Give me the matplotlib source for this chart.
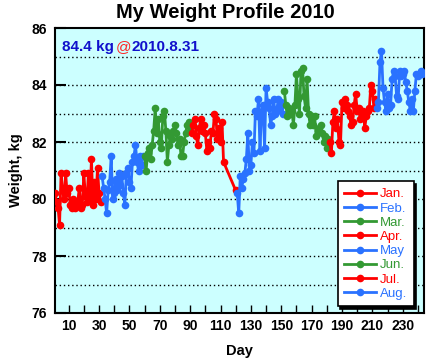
import numpy as np
import matplotlib
matplotlib.use("Agg")
import matplotlib.pyplot as plt

plt.rcParams['font.family'] = ['Liberation Sans', 'DejaVu Sans']

nan = float('nan')

month_names = ['Jan.', 'Feb.', 'Mar.', 'Apr.', 'May', 'Jun.', 'Jul.', 'Aug.']
month_start_day = [1, 32, 60, 91, 121, 152, 182, 213]

jan = [80.2, 79.9, 79.7, 79.1, 80.9, 80.3, 80.0, 80.9, 80.2, 80.4, 79.8, 79.7, 80.0, 79.7, 79.8,
       79.9, 80.4, 79.7, 79.8, 80.9, 80.1, 79.9, 80.9, 80.0, 81.4, 79.8, 80.6, 80.0, 81.1, 80.2, 79.9]
feb = [80.8, 80.4, 80.0, 79.5, 80.3, 80.6, 81.5, 80.0, 80.2, 80.7, 80.3, 80.9, 80.5, 80.8, 80.2,
       79.8, 80.9, 81.1, 80.6, 80.4, 81.3, 81.5, 81.9, 81.3, 81.0, 81.5, 81.2, 81.5]
mar = [81.5, 81.0, 81.6, 81.8, 81.4, 81.9, 82.4, 83.2, 82.3, 82.8, 82.0, 81.8, 82.9, 83.1, 82.4,
       81.3, 81.9, 82.2, 82.1, 82.4, 82.6, 82.3, 81.9, 82.1, 81.5, 81.5, 82.0, 82.3, 82.6, 82.7, 82.4]
apr = [82.3, 82.6, 82.8, 82.2, 81.9, 82.5, 82.8, 82.4, 82.6, 82.3, 81.7, 82.0, 81.8, 82.4, 82.3,
       83.0, 82.8, 82.1, 82.5, 82.0, 82.7, 81.3, nan, nan, nan, nan, nan, nan, nan, 80.3]
may = [80.2, 79.5, 80.8, 80.4, 80.7, 80.9, 81.4, 82.3, 81.0, 81.2, 82.0, 81.6, 83.1, 82.9, 83.5,
       81.7, 83.1, 83.3, 81.8, 83.9, 83.4, 83.2, 82.6, 82.9, 83.5, 83.0, 83.1, 83.5, 83.2, 83.4, 83.0]
jun = [83.8, 83.3, 82.9, 83.2, 83.0, 83.1, 82.6, 83.3, 84.4, 83.5, 83.0, 84.5, 84.6, 83.6, 83.2,
       84.2, 83.0, 82.6, 82.9, 82.6, 82.9, 82.2, 82.4, 82.5, 82.6, 82.3, 82.0, 82.2, 81.8, 82.1]
jul = [82.0, 81.6, 82.7, 83.1, 82.5, 82.8, 82.0, 81.9, 83.4, 83.2, 83.5, 83.3, 83.1, 82.9, 82.6,
       82.7, 83.3, 83.7, 83.1, 83.2, 82.8, 83.0, 83.1, 82.5, 82.9, 83.1, 83.2, 84.0, 83.8, 83.2, 83.5]
aug = [83.2, 83.4, 84.8, 85.2, 83.9, 83.4, 83.1, 83.7, 83.2, 83.3, 84.2, 84.5, 84.3, 83.6, 83.5,
       84.5, 84.3, 84.4, 84.5, 84.1, 83.8, 83.4, 83.1, 83.5, 83.1, 83.8, 84.4, 84.3, 84.4, 84.5, 84.4]

months = [jan, feb, mar, apr, may, jun, jul, aug]
colors = ['#ff0000', '#2a72ff', '#339933', '#ff0000', '#2a72ff', '#339933', '#ff0000', '#2a72ff']

x_ticks = list(range(10, 241, 10))
x_labels = [str(t) if (t - 10) % 20 == 0 else '' for t in x_ticks]
y_ticks = [76, 78, 80, 82, 84, 86]

fig = plt.figure(figsize=(4.29, 3.62), dpi=100)
ax = fig.add_axes([55 / 429, 1 - 313 / 362, (424 - 55) / 429, (313 - 28) / 362])
ax.set_facecolor('#ccffff')

for lvl in range(77, 86):
    ax.axhline(lvl, color='black', linestyle=(0, (1, 2)), linewidth=1.0, zorder=1)

for name, start, vals, c in zip(month_names, month_start_day, months, colors):
    v = np.array(vals, dtype=float)
    d = np.arange(start, start + len(v))
    m = ~np.isnan(v)
    ax.plot(d[m], v[m], color=c, linewidth=2, marker='o', markersize=5.5,
            markeredgewidth=0, label=name, zorder=3)

ax.set_xlim(1, 244)
ax.set_ylim(76, 86)
ax.set_xticks(x_ticks)
ax.set_xticklabels(x_labels)
ax.set_yticks(y_ticks)
ax.tick_params(axis='x', direction='in', length=6, width=1, labelsize=10, pad=4)
ax.tick_params(axis='y', direction='in', length=8, width=1.5, labelsize=10, pad=6)
for lab in ax.get_xticklabels() + ax.get_yticklabels():
    lab.set_fontweight('bold')
for s in ax.spines.values():
    s.set_linewidth(1.5)

ax.set_xlabel('Day', fontsize=10.5, fontweight='bold', labelpad=8)
ax.set_ylabel('Weight, kg', fontsize=10.5, fontweight='bold', labelpad=6)
fig.text(225 / 429, 1 - 13 / 362, 'My Weight Profile 2010', fontsize=14.5,
         fontweight='bold', ha='center', va='center')

leg = ax.legend(loc='lower right', bbox_to_anchor=(0.99, 0.0), fontsize=9.5,
                frameon=True, fancybox=False, edgecolor='black', framealpha=1,
                shadow={'color': 'black', 'alpha': 1}, handlelength=2.4,
                labelspacing=0.15, borderpad=0.5, handletextpad=0.3)
leg.get_frame().set_linewidth(1.2)
for txt, c in zip(leg.get_texts(), colors):
    txt.set_color(c)

# annotation
fig.canvas.draw()
r = fig.canvas.get_renderer()
t1 = ax.text(0.02, 0.935, '84.4 kg', transform=ax.transAxes, fontsize=11,
             fontweight='bold', color='#1111cc', va='center', ha='left')
bb = t1.get_window_extent(renderer=r)
inv = ax.transAxes.inverted()
x2 = inv.transform((bb.x1 + 1, bb.y0))[0]
t2 = ax.text(x2, 0.935, '@', transform=ax.transAxes, fontsize=11,
             color='#ff2222', va='center', ha='left')
bb2 = t2.get_window_extent(renderer=r)
x3 = inv.transform((bb2.x1 + 1, bb2.y0))[0]
ax.text(x3, 0.935, '2010.8.31', transform=ax.transAxes, fontsize=11,
        fontweight='bold', color='#1111cc', va='center', ha='left')

fig.savefig('out.png', dpi=100)
